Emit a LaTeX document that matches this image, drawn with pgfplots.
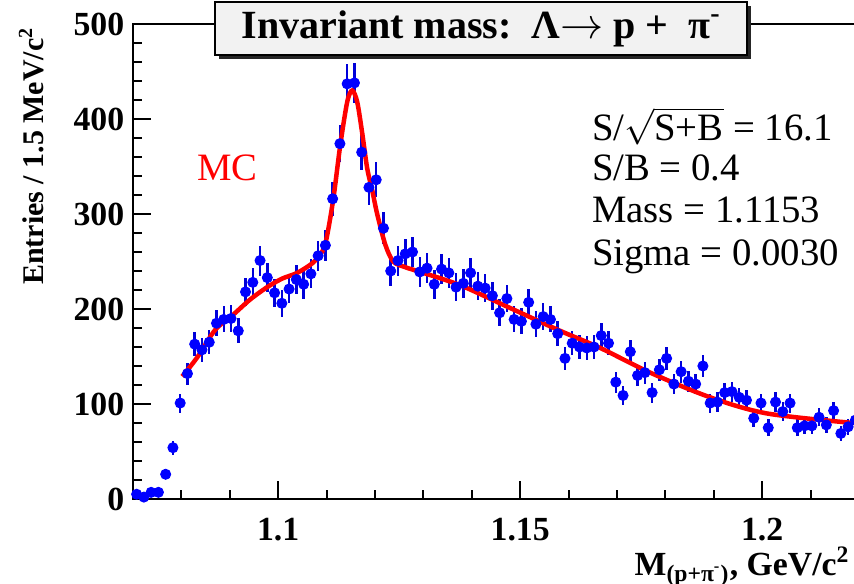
\documentclass[border=0pt]{standalone}
\usepackage{fontspec}
\setmainfont{Liberation Serif}
\usepackage{pgfplots}
\pgfplotsset{compat=1.18}
\usepackage{pgfplotstable}
\usetikzlibrary{shadows}

% measured entries per 1.5 MeV bin, with their errors
\pgfplotstableread{
x y e
1.07075 5 2.2
1.07225 2 1.4
1.07375 7 2.6
1.07525 7 2.6
1.07675 26 5.1
1.07825 54 7.3
1.07975 101 10.0
1.08125 132 11.5
1.08275 163 12.8
1.08425 157 12.5
1.08575 165 12.8
1.08725 185 13.6
1.08875 189 13.7
1.09025 190 13.8
1.09175 177 13.3
1.09325 218 14.8
1.09475 228 15.1
1.09625 251 15.8
1.09775 233 15.3
1.09925 217 14.7
1.10075 206 14.4
1.10225 221 14.9
1.10375 231 15.2
1.10525 226 15.0
1.10675 237 15.4
1.10825 256 16.0
1.10975 267 16.3
1.11125 316 17.8
1.11275 374 19.3
1.11425 437 20.9
1.11575 438 20.9
1.11725 365 19.1
1.11875 328 18.1
1.12025 336 18.3
1.12175 285 16.9
1.12325 240 15.5
1.12475 251 15.8
1.12625 258 16.1
1.12775 260 16.1
1.12925 239 15.5
1.13075 243 15.6
1.13225 226 15.0
1.13375 242 15.6
1.13525 238 15.4
1.13675 223 14.9
1.13825 227 15.1
1.13975 238 15.4
1.14125 224 15.0
1.14275 222 14.9
1.14425 214 14.6
1.14575 196 14.0
1.14725 211 14.5
1.14875 189 13.7
1.15025 187 13.7
1.15175 207 14.4
1.15325 184 13.6
1.15475 192 13.9
1.15625 189 13.7
1.15775 174 13.2
1.15925 148 12.2
1.16075 164 12.8
1.16225 160 12.6
1.16375 159 12.6
1.16525 160 12.6
1.16675 172 13.1
1.16825 164 12.8
1.16975 123 11.1
1.17125 109 10.4
1.17275 155 12.4
1.17425 130 11.4
1.17575 133 11.5
1.17725 112 10.6
1.17875 136 11.7
1.18025 148 12.2
1.18175 121 11.0
1.18325 134 11.6
1.18475 124 11.1
1.18625 121 11.0
1.18775 140 11.8
1.18925 101 10.0
1.19075 102 10.1
1.19225 112 10.6
1.19375 113 10.6
1.19525 107 10.3
1.19675 104 10.2
1.19825 85 9.2
1.19975 101 10.0
1.20125 75 8.7
1.20275 102 10.1
1.20425 92 9.6
1.20575 101 10.0
1.20725 75 8.7
1.20875 77 8.8
1.21025 77 8.8
1.21175 86 9.3
1.21325 78 8.8
1.21475 93 9.6
1.21625 69 8.3
1.21775 76 8.7
1.21925 83 9.1
}\datatable

% MC curve
\pgfplotstableread{
x y
1.08017 129
1.08326 149
1.08698 178
1.09070 194
1.09421 210
1.09773 223
1.10083 232
1.10393 238
1.10702 248
1.10826 255
1.10971 268
1.11136 315
1.11281 372
1.11426 418
1.11529 430
1.11632 418
1.11736 385
1.11839 348
1.11942 325
1.12045 300
1.12211 268
1.12376 250
1.12624 244
1.12934 239
1.13760 225
1.14793 201
1.15826 177
1.16653 159
1.17686 133
1.18926 107
1.20103 90
1.21880 80
}\fittable

\begin{document}
\begin{tikzpicture}
\begin{axis}[
    scale only axis,
    width=290.4pt, height=190pt,
    xmin=1.07, xmax=1.22,
    ymin=0, ymax=500,
    xtick={1.05,1.1,1.15,1.2,1.25},
    minor x tick num=4,
    ytick={0,100,...,500},
    minor y tick num=4,
    tick pos=left,
    tick align=inside,
    major tick length=7pt,
    minor tick length=3.5pt,
    every tick/.style={black, line width=0.8pt},
    axis line style={line width=0.9pt},
    ticklabel style={font=\fontsize{13.5}{14}\selectfont\bfseries},
    xticklabel style={yshift=-4pt},
    /pgf/number format/assume math mode=true,
    clip=false,
]
\addplot[only marks, mark=*, mark size=2pt, blue,
    mark options={fill=blue, draw=blue},
    error bars/.cd, y dir=both, y explicit,
    error bar style={line width=1pt, blue!85!black}, error mark=none]
    table[x=x, y=y, y error=e] {\datatable};
\addplot[red, line width=1.8pt, smooth, tension=0.5] table[x=x, y=y] {\fittable};

\node[anchor=base west, font=\fontsize{15.5}{16}\selectfont] at (axis cs:1.16302,377) {S/$\sqrt{\mbox{S+B}}$ = 16.1};
\node[anchor=base west, font=\fontsize{15.5}{16}\selectfont] at (axis cs:1.16302,335) {S/B = 0.4};
\node[anchor=base west, font=\fontsize{15.5}{16}\selectfont] at (axis cs:1.16302,291) {Mass = 1.1153};
\node[anchor=base west, font=\fontsize{15.5}{16}\selectfont] at (axis cs:1.16302,246) {Sigma = 0.0030};
\node[anchor=base, red, font=\fontsize{15.5}{16}\selectfont] at (axis cs:1.08946,335) {MC};

\node[anchor=base east, inner sep=1pt, font=\fontsize{13.5}{14}\selectfont\bfseries] at (axis cs:1.2187,-81)
    {M\textsubscript{(p+π\textsuperscript{-})}, GeV/c\textsuperscript{2}};
\node[rotate=90, anchor=east, font=\fontsize{12}{13}\selectfont\bfseries] at (axis cs:1.04897,506)
    {Entries / 1.5 MeV/c\textsuperscript{2}};

\coordinate (tc) at (axis cs:1.14194,495);
\coordinate (bl) at (rel axis cs:0,0);
\coordinate (tl) at (rel axis cs:0,1);
\end{axis}

\node[draw=black, line width=0.8pt, fill=gray!10, minimum width=213pt, minimum height=18pt,
    drop shadow={shadow xshift=1.5pt, shadow yshift=-1.5pt, fill=black!85, opacity=1},
    font=\fontsize{16}{17}\selectfont\bfseries] at (tc)
    {Invariant mass:\ \ Λ$\rightarrow$ p + \ π\textsuperscript{-}};

\pgfresetboundingbox
\path[use as bounding box] ([xshift=-53.2pt, yshift=-34pt]bl) rectangle ([xshift=288.4pt, yshift=9.6pt]tl);
\end{tikzpicture}
\end{document}
